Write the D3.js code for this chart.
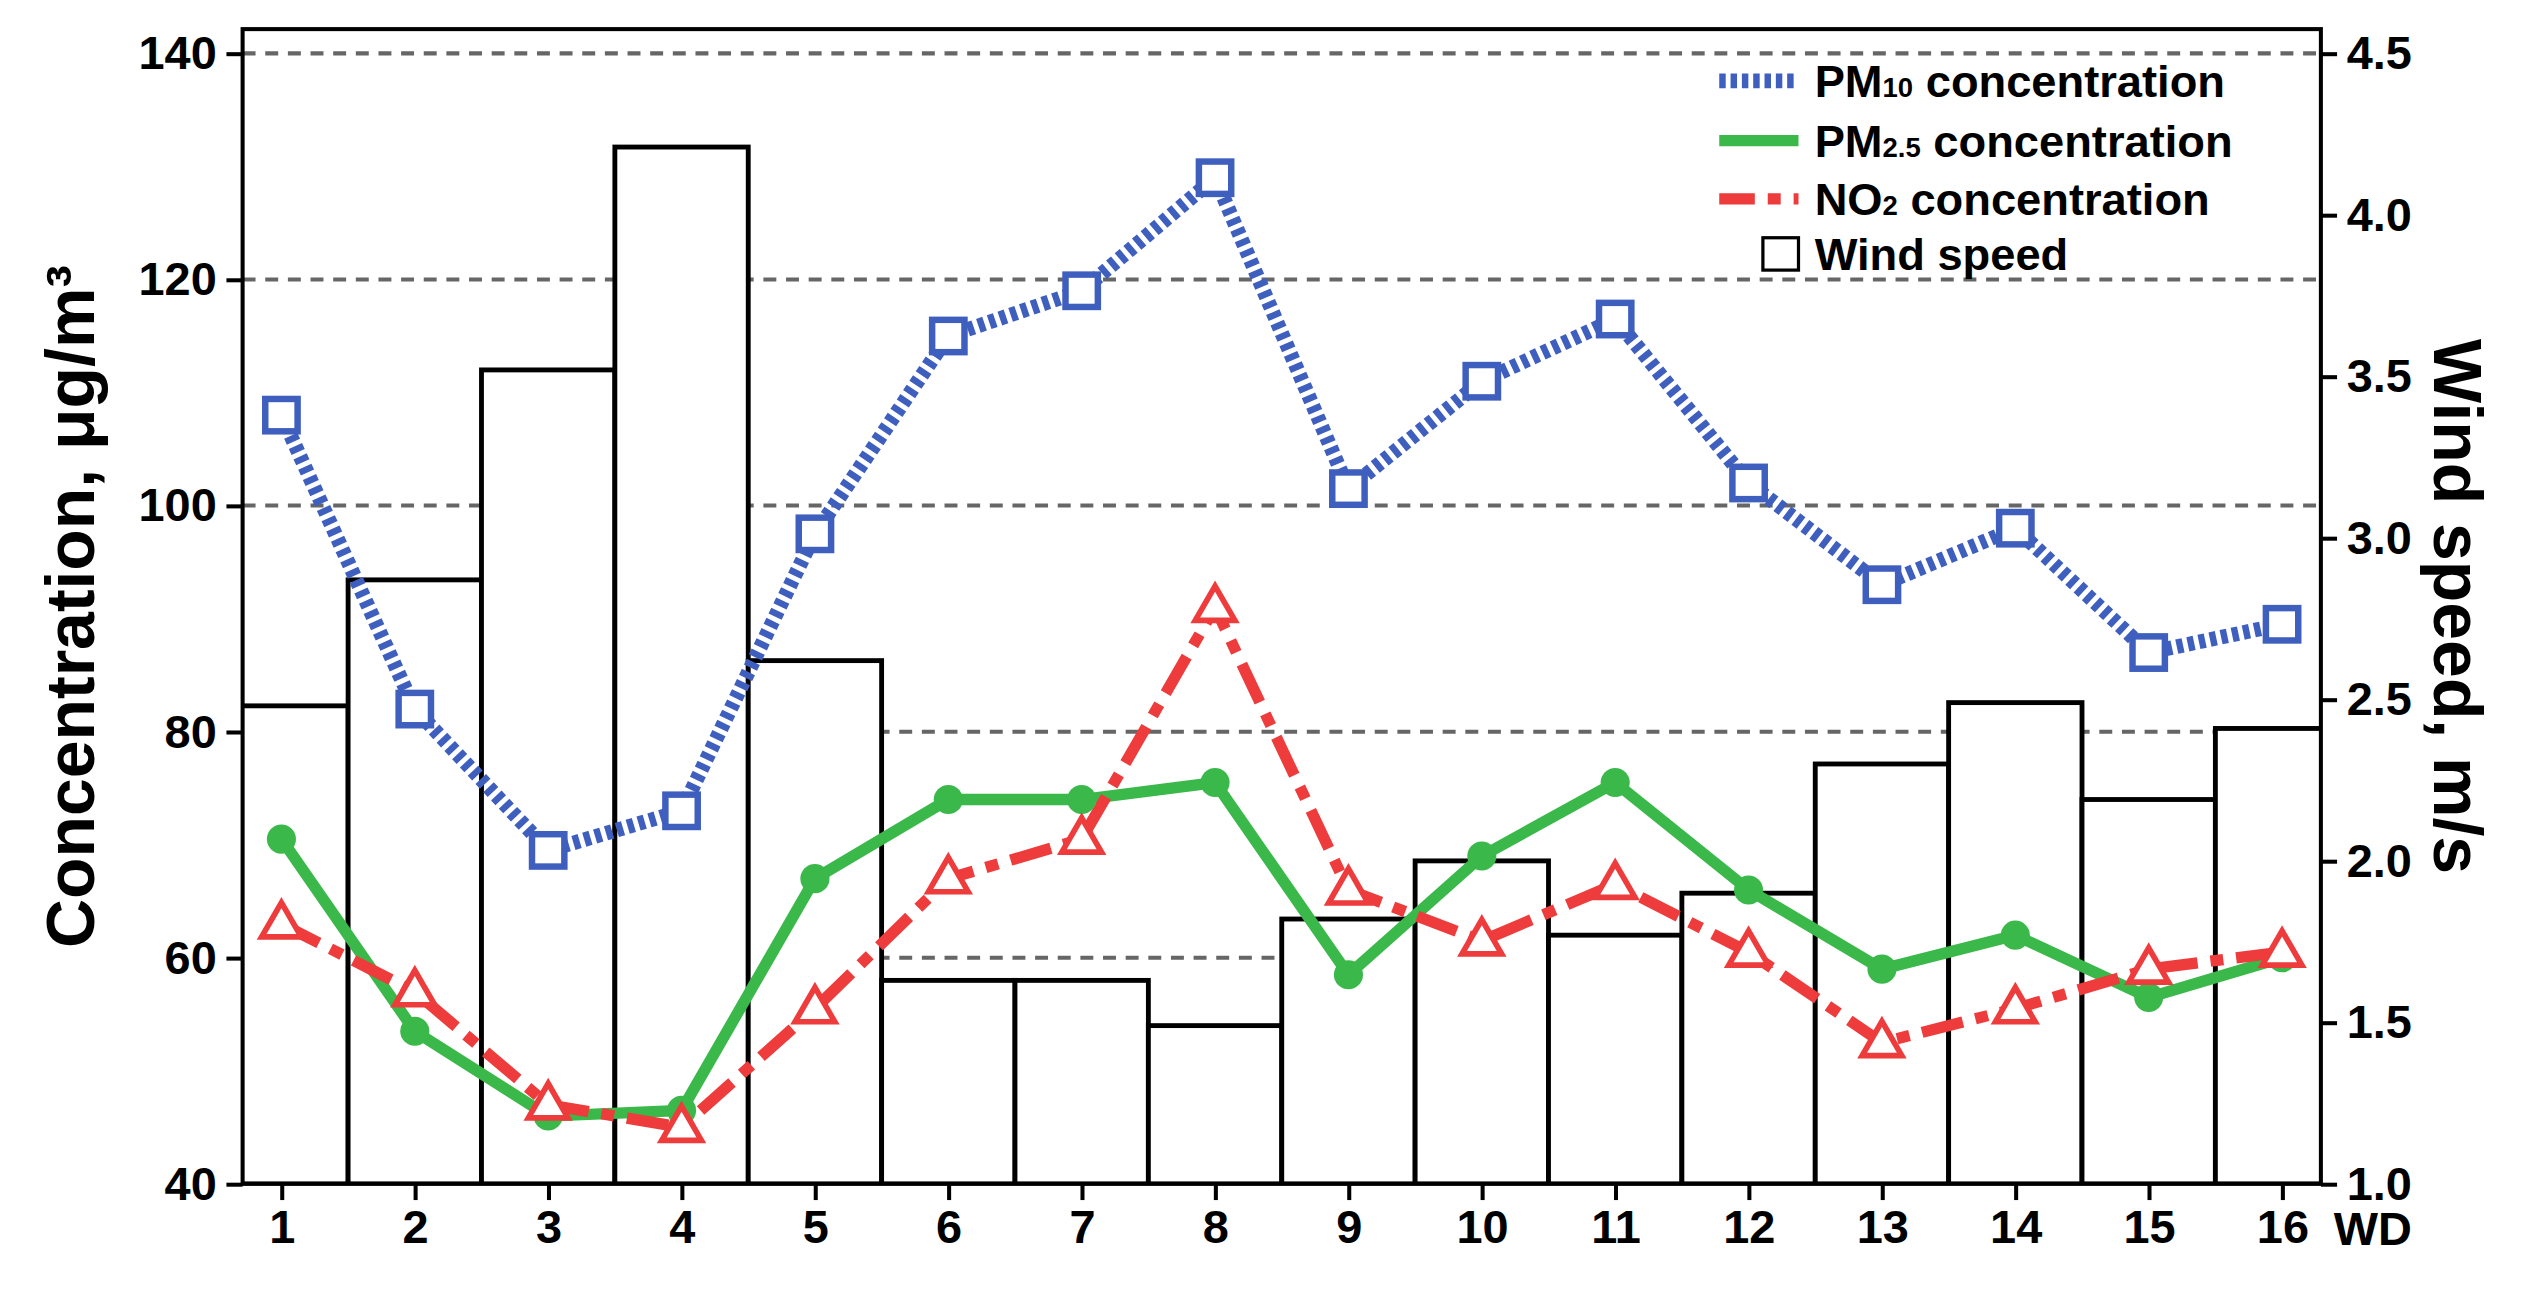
<!DOCTYPE html><html><head><script src="https://d3js.org/d3.v7.min.js"></script>
<style>body{margin:0;background:#fff}text{font-family:Arial,"Liberation Sans",sans-serif;font-weight:bold}</style></head><body><svg id="c" width="2536" height="1306" viewBox="0 0 1568 807.5"></svg><script>
const days=[1,2,3,4,5,6,7,8,9,10,11,12,13,14,15,16];
const wind=[2.48,2.87,3.52,4.21,2.62,1.63,1.63,1.49,1.82,2.0,1.77,1.90,2.30,2.49,2.19,2.41];
const pm10=[108,82,69.5,73,97.5,115,119,129,101.5,111,116.5,102,93,98,87,89.5];
const pm25=[70.5,53.5,46,46.5,67,74,74,75.5,58.5,69,75.5,66,59,62,56.5,60];
const no2=[63,57,47,45,55.5,67,70.5,91,66,61.5,66.5,60.5,52.5,55.5,59,60.5];
const leftTicks=[40,60,80,100,120,140];
const rightTicks=[1.0,1.5,2.0,2.5,3.0,3.5,4.0,4.5];
const svg=d3.select("#c");
const L=150,R=1435,T=18,B=732;
const x=d3.scaleLinear().domain([1,16]).range([174,1411]);
const y=d3.scaleLinear().domain([40,140]).range([B,33]);
const y2=d3.scaleLinear().domain([1,4.5]).range([B,33]);
const step=x(2)-x(1);
svg.append("defs").append("clipPath").attr("id","cp").append("rect").attr("x",L).attr("y",T).attr("width",R-L).attr("height",B-T);
const g=svg.append("g");
g.selectAll(".gl").data(leftTicks.slice(1)).join("line").attr("x1",L).attr("x2",R).attr("y1",d=>y(d)).attr("y2",d=>y(d)).attr("stroke","#666").attr("stroke-width",2.5).attr("stroke-dasharray","8,6");
g.append("g").attr("clip-path","url(#cp)").selectAll("rect").data(days).join("rect")
 .attr("x",d=>x(d)-step/2).attr("width",step).attr("y",(d,i)=>y2(wind[i])).attr("height",(d,i)=>B-y2(wind[i]))
 .attr("fill","#fff").attr("stroke","#000").attr("stroke-width",3);
function series(vals,color,dash,w){
 g.append("path").datum(vals).attr("d",d3.line().x((d,i)=>x(days[i])).y(d=>y(d))).attr("fill","none").attr("stroke",color).attr("stroke-width",w).attr("stroke-dasharray",dash);
}
series(pm10,"#3f5fbf","4,3",9);
series(pm25,"#3bb84a",null,7);
series(no2,"#ee3b3b","26,8,8,8",7);
g.selectAll(".sq").data(pm10).join("rect").attr("x",(d,i)=>x(days[i])-10).attr("y",d=>y(d)-10).attr("width",20).attr("height",20).attr("fill","#fff").attr("stroke","#3f5fbf").attr("stroke-width",4);
g.selectAll(".ci").data(pm25).join("circle").attr("cx",(d,i)=>x(days[i])).attr("cy",d=>y(d)).attr("r",9).attr("fill","#3bb84a");
const tri=d3.symbol().type(d3.symbolTriangle).size(260);
g.selectAll(".tr").data(no2).join("path").attr("d",tri).attr("transform",(d,i)=>`translate(${x(days[i])},${y(d)+1})`).attr("fill","#fff").attr("stroke","#ee3b3b").attr("stroke-width",3.5);
svg.append("rect").attr("x",L).attr("y",T).attr("width",R-L).attr("height",B-T).attr("fill","none").attr("stroke","#000").attr("stroke-width",2.5);
const ax=svg.append("g").attr("transform",`translate(0,${B})`).call(d3.axisBottom(x).tickValues(days).tickFormat(d3.format("d")).tickSize(10).tickPadding(6));
const ay=svg.append("g").attr("transform",`translate(${L},0)`).call(d3.axisLeft(y).tickValues(leftTicks).tickSize(10).tickPadding(6));
const ay2=svg.append("g").attr("transform",`translate(${R},0)`).call(d3.axisRight(y2).tickValues(rightTicks).tickFormat(d3.format(".1f")).tickSize(10).tickPadding(6));
[ax,ay,ay2].forEach(a=>{a.selectAll("text").attr("font-size",29).attr("fill","#000");a.selectAll("line,path").attr("stroke","#000").attr("stroke-width",2.5);a.select(".domain").remove();});
svg.append("text").attr("x",1443).attr("y",770).attr("font-size",29).text("WD");
svg.append("text").attr("transform","translate(58,375) rotate(-90)").attr("text-anchor","middle").attr("font-size",42).text("Concentration, μg/m³");
svg.append("text").attr("transform","translate(1505,375) rotate(90)").attr("text-anchor","middle").attr("font-size",42).text("Wind  speed, m/s");
const leg=[["PM","10"," concentration"],["PM","2.5"," concentration"],["NO","2"," concentration"],["Wind speed","",""]];
const ly=[50,87,123,157];
leg.forEach((l,i)=>{
 const t=svg.append("text").attr("x",1122).attr("y",ly[i]+10).attr("font-size",28);
 t.append("tspan").text(l[0]); if(l[1]) t.append("tspan").attr("font-size",17).text(l[1]); t.append("tspan").text(l[2]);
});
svg.append("line").attr("x1",1063).attr("x2",1112).attr("y1",ly[0]).attr("y2",ly[0]).attr("stroke","#3f5fbf").attr("stroke-width",9).attr("stroke-dasharray","4,3");
svg.append("line").attr("x1",1063).attr("x2",1112).attr("y1",ly[1]).attr("y2",ly[1]).attr("stroke","#3bb84a").attr("stroke-width",7);
svg.append("line").attr("x1",1063).attr("x2",1112).attr("y1",ly[2]).attr("y2",ly[2]).attr("stroke","#ee3b3b").attr("stroke-width",7).attr("stroke-dasharray","22,8,8,8");
svg.append("rect").attr("x",1090).attr("y",ly[3]-10).attr("width",22).attr("height",20).attr("fill","#fff").attr("stroke","#000").attr("stroke-width",2);
</script></body></html>
